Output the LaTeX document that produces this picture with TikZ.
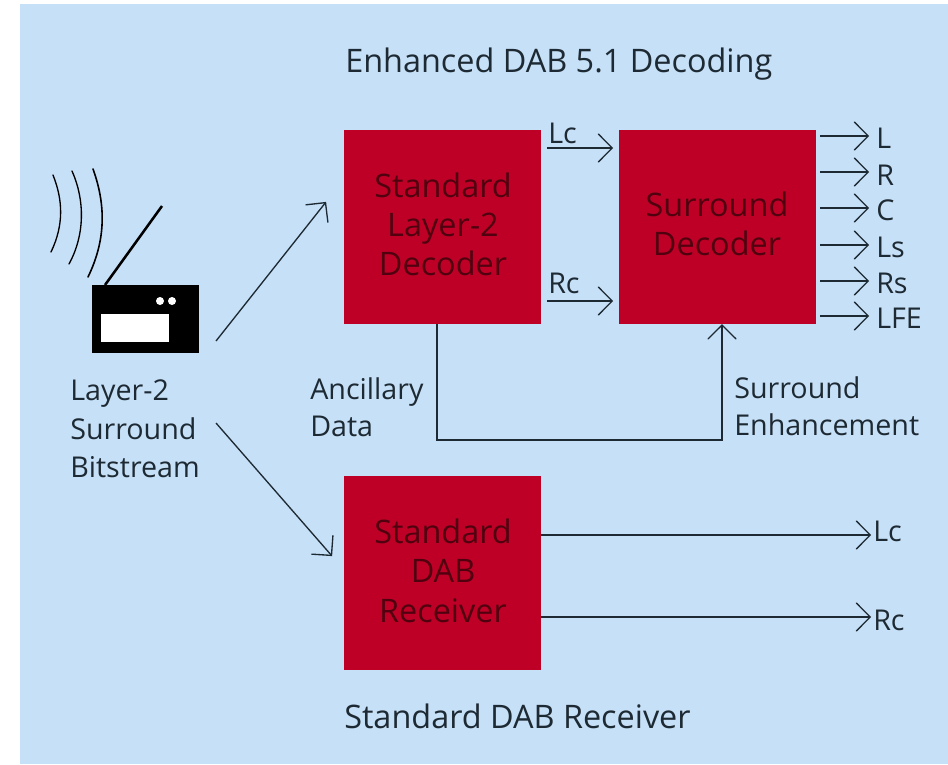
\documentclass[tikz,border=0pt]{standalone}
\usepackage{fontspec}
\setmainfont{Open Sans}
\usetikzlibrary{arrows.meta}
\definecolor{bgblue}{HTML}{C6E0F7}
\definecolor{boxred}{HTML}{BE0026}
\definecolor{boxtext}{HTML}{50000F}
\definecolor{ink}{HTML}{1E2A33}
\pgfdeclarearrow{
  name=Chev,
  setup code={
    \pgfarrowssettipend{0pt}
    \pgfarrowssetbackend{-11pt}
    \pgfarrowssetlineend{-0.6pt}
    \pgfarrowssetvisualbackend{-0.6pt}
    \pgfarrowshullpoint{0pt}{0pt}
    \pgfarrowshullpoint{-11pt}{10.5pt}
    \pgfarrowshullpoint{-11pt}{-10.5pt}
  },
  drawing code={
    \pgfsetdash{}{0pt}
    \pgfsetroundcap
    \pgfsetmiterjoin
    \pgfsetlinewidth{1pt}
    \pgfpathmoveto{\pgfqpoint{-11pt}{10.5pt}}
    \pgfpathlineto{\pgfqpoint{-0.6pt}{0pt}}
    \pgfpathlineto{\pgfqpoint{-11pt}{-10.5pt}}
    \pgfusepathqstroke
  },
  defaults={}
}
\tikzset{
  px/.style={x=0.75pt,y=-0.75pt},
  block/.style={fill=boxred,draw=none,minimum width=147.75pt,minimum height=145.5pt,inner sep=0pt},
  blocktext/.style={text=boxtext,font=\fontsize{24.3}{29}\selectfont,align=center,anchor=base},
  lab/.style={text=ink,font=\fontsize{21.5}{28.5}\selectfont,anchor=base west,inner sep=0pt,align=left},
  head/.style={text=ink,font=\fontsize{24.3}{28}\selectfont,anchor=base west,inner sep=0pt},
  conn/.style={draw=ink,line width=1pt,-{Chev}},
  wave/.style={draw=black,line width=1pt,line cap=round},
}
\begin{document}
\begin{tikzpicture}[px]
\useasboundingbox (0,0) rectangle (948,764);
\fill[bgblue] (20,4) rectangle (948,764);
% blocks
\node[block] (dec) at (442.5,227) {};
\node[block] (sur) at (717,227) {};
\node[block] (dab) at (442.5,573) {};
\node[blocktext] (t1) at (443,197) {Standard};
\node[blocktext] (t2) at (443,236) {Layer-2};
\node[blocktext] (t3) at (443,275) {Decoder};
\node[blocktext] (t4) at (717,216) {Surround};
\node[blocktext] (t5) at (717,255) {Decoder};
\node[blocktext] (t6) at (443,543) {Standard};
\node[blocktext] (t7) at (443,582) {DAB};
\node[blocktext] (t8) at (443,622) {Receiver};
% radio
\node[fill=black,minimum width=80.25pt,minimum height=51pt,inner sep=0pt] (radio) at (145.5,319) {};
\node[fill=white,minimum width=51pt,minimum height=21pt,inner sep=0pt] (window) at (135,328) {};
\node[circle,fill=white,minimum size=6pt,inner sep=0pt] (knoba) at (160,301) {};
\node[circle,fill=white,minimum size=6pt,inner sep=0pt] (knobb) at (172,301) {};
\coordinate (anttip) at (162,206);
\draw[black,line width=1.9pt] (105,285) -- (anttip);
\draw[wave] (53,175) .. controls (63,200) and (64,225) .. (51,252);
\draw[wave] (72,171) .. controls (85,200) and (85,235) .. (69,264);
\draw[wave,line width=1.2pt] (93,169) .. controls (106,205) and (106,240) .. (88,277);
% texts
\node[head] (title) at (345,72) {Enhanced DAB 5.1 Decoding};
\node[head] (sub) at (344,728) {Standard DAB Receiver};
\node[lab] (l1) at (70,400) {Layer-2};
\node[lab] (l2) at (70,439) {Surround};
\node[lab] (l3) at (70,477) {Bitstream};
\node[lab] (a1) at (310,399) {Ancillary};
\node[lab] (a2) at (310,436) {Data};
\node[lab] (s1) at (734,398) {Surround};
\node[lab] (s2) at (734,435) {Enhancement};
\node[lab] (lc) at (548,143) {Lc};
\node[lab] (rc) at (548,293) {Rc};
\node[lab] (oL) at (876,148) {L};
\node[lab] (oR) at (876,185) {R};
\node[lab] (oC) at (876,220) {C};
\node[lab] (oLs) at (876,257) {Ls};
\node[lab] (oRs) at (876,293) {Rs};
\node[lab] (oLFE) at (876,328) {LFE};
\node[lab] (dlc) at (873,541) {Lc};
\node[lab] (drc) at (873,630) {Rc};
% connector ends
\coordinate (r1) at (216,341); \coordinate (r1e) at (326,202);
\coordinate (r2) at (216,423); \coordinate (r2e) at (332,556);
\coordinate (a) at (547,148); \coordinate (ae) at (613,148);
\coordinate (b) at (547,301); \coordinate (be) at (613,301);
\foreach \n/\y/\t in {1/136/oL,2/172/oR,3/208/oC,4/245/oLs,5/281/oRs,6/316/oLFE}{
  \coordinate (o\n) at (820,\y);
  \draw[conn] (o\n) -- (869,\y);
}
\draw[conn] (r1) -- (r1e);
\draw[conn] (r2) -- (r2e);
\draw[conn] (a) -- (ae);
\draw[conn] (b) -- (be);
\coordinate (anc) at (437,440); \coordinate (enh) at (722,440);
\draw[conn] (dec.south -| anc) -- (anc) -- (enh) -- (sur.south -| enh);
\coordinate (d1) at (dab.east |- 0,535);
\coordinate (d2) at (dab.east |- 0,617);
\draw[conn] (d1) -- (871,535);
\draw[conn] (d2) -- (871,617);
\end{tikzpicture}
\end{document}
